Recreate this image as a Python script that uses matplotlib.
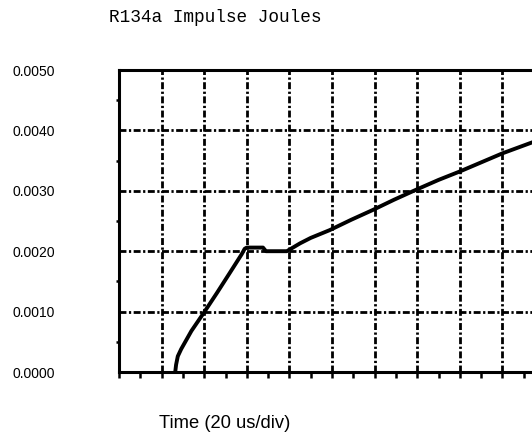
import numpy as np
import matplotlib.pyplot as plt
from matplotlib.ticker import MultipleLocator

# -----------------------------
# data (time in us, energy in J)
# -----------------------------
time_us = [26.4, 26.8, 27.6, 29.2, 34, 40, 46, 52, 57.6, 59, 60, 67.6, 69, 78.8,
           85, 90, 99, 109, 119, 129, 139, 150, 160, 170, 180, 190, 200]
joules = [0.0, 0.00012, 0.00026, 0.00038, 0.00068, 0.00099, 0.00131, 0.00164,
          0.00195, 0.00204, 0.00206, 0.00206, 0.00200, 0.00200, 0.00213, 0.00222,
          0.00235, 0.00252, 0.00268, 0.00285, 0.00301, 0.00318, 0.00332, 0.00347,
          0.00362, 0.00375, 0.00388]

y_ticks = [0.0, 0.001, 0.002, 0.003, 0.004, 0.005]
y_labels = ["0.0000", "0.0010", "0.0020", "0.0030", "0.0040", "0.0050"]

plt.rcParams['lines.scale_dashes'] = False

fig = plt.figure(figsize=(5.32, 4.34), dpi=100)
W, H = 532, 434
# axes runs past the right edge of the page like in the scan
ax = fig.add_axes([119 / W, (H - 372) / H, 426 / W, 302 / H])

dashdot = (0, (5.0, 1.8, 1.6, 1.8))
for t in range(20, 200, 20):
    ax.axvline(t, color='black', lw=2.0, ls=dashdot, zorder=1)
for v in y_ticks[1:-1]:
    ax.axhline(v, color='black', lw=2.0, ls=dashdot, zorder=1)

ax.plot(time_us, joules, color='black', lw=2.8, zorder=3)

ax.set_xlim(0, 200)
ax.set_ylim(0, 0.005)

ax.xaxis.set_major_locator(MultipleLocator(10))
ax.tick_params(axis='x', length=4, width=1.8, direction='out', labelbottom=False)
ax.set_yticks(y_ticks)
ax.set_yticklabels(y_labels, fontsize=10, family='Liberation Sans')
ax.yaxis.set_minor_locator(MultipleLocator(0.0005))
ax.tick_params(axis='y', which='major', length=0, pad=46)
ax.tick_params(axis='y', which='minor', length=2, width=1.8, direction='out')

for s in ['left', 'bottom', 'top', 'right']:
    ax.spines[s].set_linewidth(2.2)

fig.text(109 / W, 1 - 18 / H, "R134a Impulse Joules", family='Liberation Mono',
         fontsize=12.8, va='center', ha='left')
fig.text(159 / W, 1 - 424 / H, "Time (20 us/div)", family='Liberation Sans',
         fontsize=13.2, va='center', ha='left')

fig.savefig("out.png", dpi=100)
